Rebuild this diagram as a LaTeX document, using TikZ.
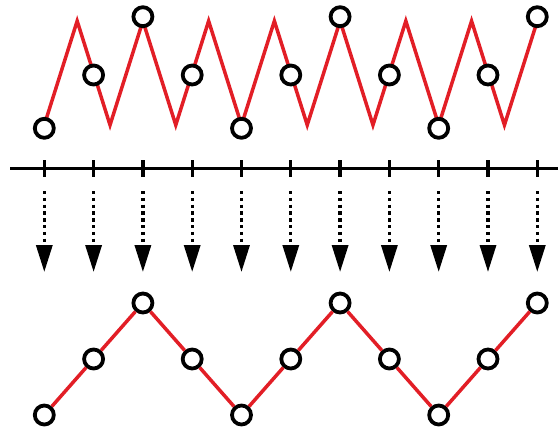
\documentclass[tikz,border=0pt]{standalone}
\usetikzlibrary{arrows.meta}
\definecolor{wavered}{RGB}{226,30,38}
\begin{document}
\begin{tikzpicture}[x=1pt,y=-1pt,
  sample/.style={circle,draw=black,fill=white,line width=3.8pt,minimum size=19pt,inner sep=0pt},
  wave/.style={draw=wavered,line width=3.5pt,line join=miter},
  axisline/.style={line width=3.3pt},
  tickmark/.style={line width=3.3pt},
  dropline/.style={line width=3.3pt,dash pattern=on 3.3pt off 3.5pt,-{Triangle[width=16pt,length=27pt]}}]
\useasboundingbox (0,0) rectangle (558,432);

% fast zigzag signal (vertices)
\foreach \j in {0,...,15}{
  \pgfmathsetmacro{\vx}{44.3+32.867*\j}
  \pgfmathsetmacro{\vy}{mod(\j,2)==0 ? 125 : 21}
  \coordinate (v\j) at (\vx,\vy);
}
\draw[wave] (v0) \foreach \j in {1,...,15}{ -- (v\j)};

% time axis with sampling ticks
\coordinate (axL) at (10,168.3);
\coordinate (axR) at (558,168.3);
\draw[axisline] (axL) -- (axR);

\foreach \k in {0,...,10}{
  \pgfmathsetmacro{\sx}{44.3+49.3*\k}
  \pgfmathsetmacro{\ty}{mod(\k,4)==0 ? 128.3 : (mod(\k,4)==2 ? 16.7 : 75)}
  \pgfmathsetmacro{\by}{mod(\k,4)==0 ? 415 : (mod(\k,4)==2 ? 303 : 359)}
  \coordinate (tkA\k) at (\sx,160);
  \coordinate (tkB\k) at (\sx,177);
  \coordinate (dropA\k) at (\sx,191);
  \coordinate (dropB\k) at (\sx,272);
  \draw[tickmark] (tkA\k) -- (tkB\k);
  \draw[dropline] (dropA\k) -- (dropB\k);
  \node[sample] (t\k) at (\sx,\ty) {};
  \node[sample] (b\k) at (\sx,\by) {};
}

% reconstructed slow signal
\foreach \k [evaluate=\k as \n using int(\k+1)] in {0,...,9}{
  \draw[wave] (b\k) -- (b\n);
}
\end{tikzpicture}
\end{document}
